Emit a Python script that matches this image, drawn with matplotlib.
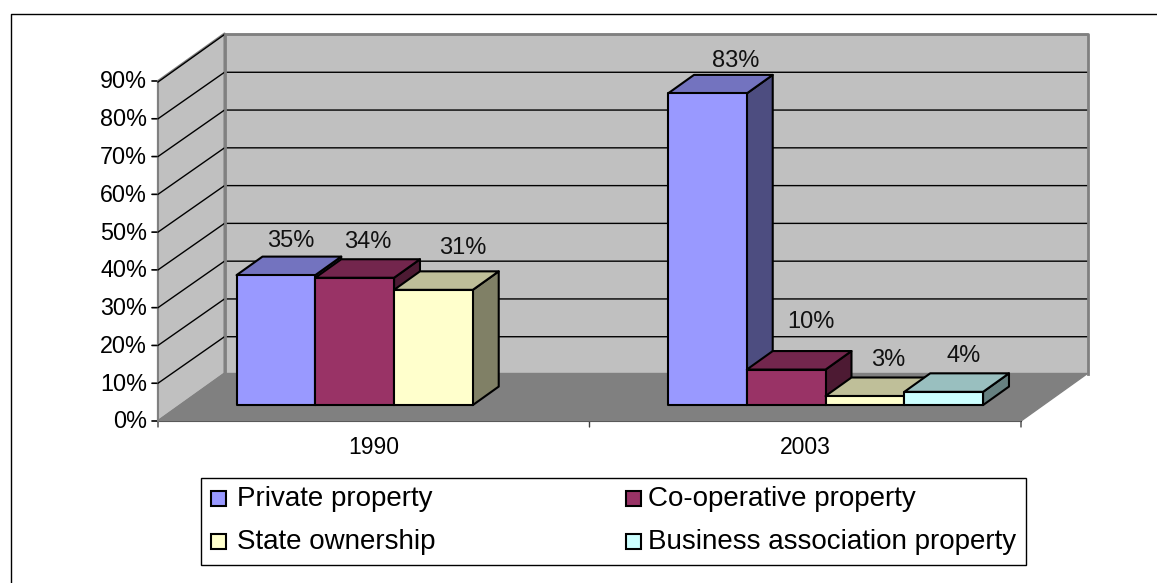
import matplotlib
matplotlib.use("Agg")
import matplotlib.pyplot as plt
from matplotlib.patches import Polygon, Rectangle
from matplotlib.transforms import Affine2D

plt.rcParams['font.family'] = ['Liberation Sans', 'DejaVu Sans']

years = ["1990", "2003"]
series = ["Private property", "Co-operative property", "State ownership", "Business association property"]
private = [34.4, 82.5]
cooperative = [33.7, 9.4]
state = [30.5, 2.4]
business = [None, 3.5]
private_labels = ["35%", "83%"]
cooperative_labels = ["34%", "10%"]
state_labels = ["31%", "3%"]
business_labels = [None, "4%"]
y_ticks = [0, 10, 20, 30, 40, 50, 60, 70, 80, 90]

face = ["#9999FF", "#993366", "#FFFFCC", "#CCFFFF"]
top = ["#7373BF", "#73264D", "#BFBF99", "#99BFBF"]
side = ["#4D4D80", "#4D1A33", "#808066", "#668080"]

# per-label placement tweaks in pixels: (series, category) -> (dx, dy)
label_shift = {(0, 0): (-11, 16), (1, 0): (-13, 17), (2, 0): (3, 23),
               (0, 1): (2, 14), (1, 1): (-1, 29), (2, 1): (-3, 17), (3, 1): (-6, 17)}

W, H = 1157, 583
fig = plt.figure(figsize=(W / 100, H / 100), dpi=100, facecolor="white")
# outer frame: only left and top edges fall inside the picture
fig.add_artist(plt.Line2D([10.5 / W, 10.5 / W, 1], [0, 1 - 13.5 / H, 1 - 13.5 / H],
                          transform=fig.transFigure, color="black", lw=1.0))

L, R, T, B = 158, 1021, 81, 421
ax = fig.add_axes([L / W, 1 - B / H, (R - L) / W, (B - T) / H])
ax.set_xlim(0, 2)
ax.set_ylim(0, 90)
ax.axis("off")

WALL_DX, WALL_DY = 66.5, 47.5
BAR_FRONT = 0.335
BAR_DEPTH = 0.39
BAR_W = 0.1825
GROUP_SHIFT = -0.0046


def at(depth):
    """Data transform shifted back by a fraction of the floor depth (pixels at dpi 100)."""
    return ax.transData + Affine2D().translate(WALL_DX * depth, WALL_DY * depth)


def poly(points, depths, fc, ec="none", lw=0.0, z=1):
    """Polygon of (x, y) data points, each at its own depth."""
    disp = [at(d).transform(p) for p, d in zip(points, depths)]
    fig.add_artist(Polygon(disp, closed=True, transform=None, fc=fc, ec=ec, lw=lw, zorder=z, joinstyle="round"))


# walls and floor
poly([(0, 0), (0, 90), (0, 90), (0, 0)], [0, 0, 1, 1], "#C0C0C0", "#808080", 1.5, 1)
poly([(0, 0), (2, 0), (2, 90), (0, 90)], [1, 1, 1, 1], "#C0C0C0", "none", 0, 1)
poly([(0, 0), (2, 0), (2, 0), (0, 0)], [0, 0, 1, 1], "#808080", "#808080", 1.0, 2)

for v in y_ticks[1:]:
    a = at(0).transform((0, v))
    b = at(1).transform((0, v))
    c = at(1).transform((2, v))
    fig.add_artist(plt.Line2D([a[0], b[0], c[0]], [a[1] - (1 if v == 90 else 0), b[1] - 1, c[1] - 1], transform=None,
                              color="black", lw=1.0, zorder=3))
# grey back-wall edge drawn over the grid ends
p = [at(1).transform(q) for q in [(0, 0), (0, 90), (2, 90), (2, 0)]]
fig.add_artist(plt.Line2D([q[0] for q in p], [q[1] for q in p], transform=None, color="#808080", lw=2.0, zorder=4))

# front axis lines, ticks and tick labels
ax.plot([0, 0], [0, 90], color="#404040", lw=1.5, clip_on=False, zorder=4)
ax.plot([0, 2], [0, 0], color="black", lw=1.5, clip_on=False, zorder=4)
for v in y_ticks:
    ax.annotate("", xy=(0, v), xytext=(-6, 0), textcoords="offset pixels",
                arrowprops=dict(arrowstyle="-", color="black", lw=1.2, shrinkA=0, shrinkB=0))
    ax.annotate(f"{v}%", xy=(0, v), xytext=(-11, -1), textcoords="offset pixels",
                ha="right", va="center", fontsize=16.8, color="black")
for x in (0, 1, 2):
    ax.annotate("", xy=(x, 0), xytext=(0, -6), textcoords="offset pixels",
                arrowprops=dict(arrowstyle="-", color="#404040", lw=1.0, shrinkA=0, shrinkB=0))
for i, year in enumerate(years):
    ax.annotate(year, xy=(i + 0.5, 0), xytext=(0, -26), textcoords="offset pixels",
                ha="center", va="center", fontsize=16.5, color="black")

# bars
values = [private, cooperative, state, business]
labels = [private_labels, cooperative_labels, state_labels, business_labels]
d0, d1 = BAR_FRONT, BAR_FRONT + BAR_DEPTH
for c in range(len(years)):
    for s in range(len(series)):
        v = values[s][c]
        if v is None:
            continue
        x0 = c + 0.5 + (s - 2) * BAR_W + GROUP_SHIFT
        x1 = x0 + BAR_W
        z = 10 + s
        poly([(x1, 0), (x1, 0), (x1, v), (x1, v)], [d0, d1, d1, d0], side[s], "black", 1.5, z)
        poly([(x0, v), (x1, v), (x1, v), (x0, v)], [d0, d0, d1, d1], top[s], "black", 1.5, z)
        poly([(x0, 0), (x1, 0), (x1, v), (x0, v)], [d0] * 4, face[s], "black", 1.5, z)
        tx, ty = at(d1).transform((x0 + BAR_W / 2, v))
        sx, sy = label_shift[(s, c)]
        fig.text((tx + sx) / W, (ty + sy) / H, labels[s][c], ha="center", va="center", fontsize=17,
                 color="#111111", zorder=30)

# legend
fig.add_artist(Rectangle((201 / W, 1 - 565 / H), 825 / W, 87 / H, transform=fig.transFigure,
                         fc="white", ec="black", lw=1))
positions = [(211, 499), (626, 499), (211, 542), (626, 542)]
positions_text = [237, 648, 237, 648]
for s, name in enumerate(series):
    px, py = positions[s]
    fig.add_artist(Rectangle((px / W, 1 - (py + 7) / H), 15 / W, 15 / H, transform=fig.transFigure,
                             fc=face[s], ec="black", lw=1.5))
    fig.text(positions_text[s] / W, 1 - py / H, name, ha="left", va="center", fontsize=20, color="black")

fig.savefig("out.png", dpi=100)
